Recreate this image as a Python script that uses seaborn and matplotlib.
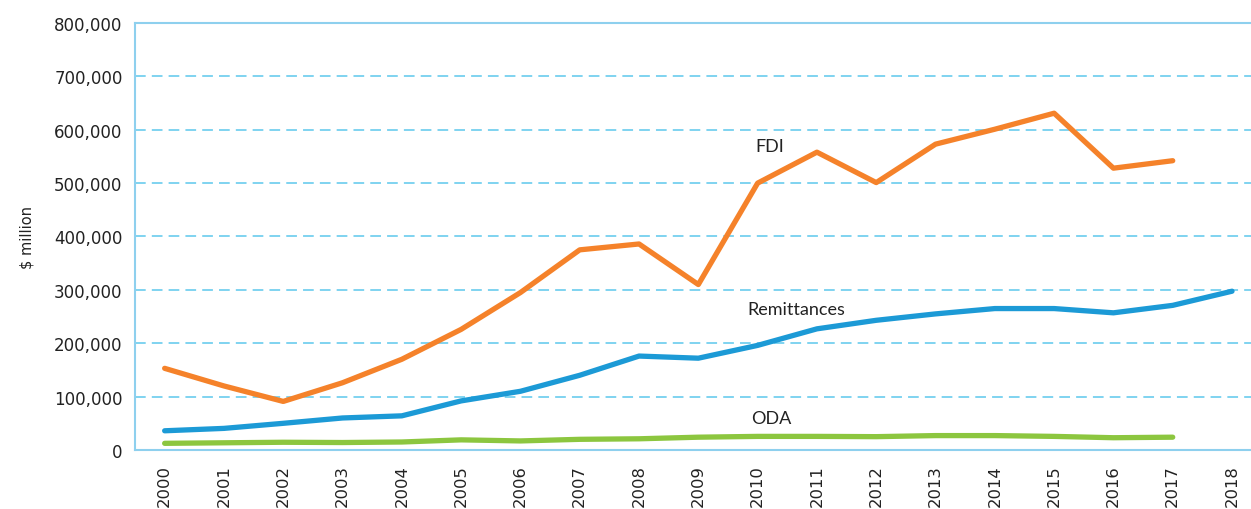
import numpy as np
import pandas as pd
import matplotlib
matplotlib.use("Agg")
import matplotlib.pyplot as plt
from matplotlib.ticker import FuncFormatter, FixedLocator
import seaborn as sns

years = [str(y) for y in range(2000, 2019)]
fdi = [153000, 120000, 91000, 126000, 170000, 226000, 295000, 375000, 386000, 310000,
       500000, 558000, 501000, 573000, 601000, 631000, 528000, 542000, np.nan]
remittances = [36000, 40500, 50000, 60000, 64000, 92000, 110000, 140000, 176000, 172000,
               196000, 227000, 243000, 255000, 265000, 265000, 257000, 271000, 297500]
oda = [12500, 13500, 14500, 14000, 15000, 19000, 17000, 20000, 21000, 24000,
       25500, 25500, 25000, 27000, 27000, 25500, 23000, 24000, np.nan]

series_names = ["FDI", "Remittances", "ODA"]
series_colors = {"FDI": "#F5822A", "Remittances": "#1C9AD6", "ODA": "#8CC63F"}

frames = []
for name, vals in zip(series_names, [fdi, remittances, oda]):
    frames.append(pd.DataFrame({"pos": np.arange(len(years)), "year": years,
                                "value": vals, "series": name}))
df = pd.concat(frames, ignore_index=True).dropna()

sns.set_theme(style="white")
plt.rcParams["font.family"] = ["DejaVu Sans"]

fig = plt.figure(figsize=(12.51, 5.10), dpi=100)
ax = fig.add_axes([135 / 1251, 59 / 510, 1 - 135 / 1251, (451 - 24) / 510])

grid_color = "#5CC8EC"
spine_color = "#8ED0EE"
for v in range(100000, 800000, 100000):
    ax.axhline(v, color=grid_color, lw=1.1, ls=(0, (7, 4)), zorder=0)

sns.lineplot(data=df, x="pos", y="value", hue="series", palette=series_colors,
             hue_order=series_names, linewidth=3.8, legend=False, ax=ax,
             solid_capstyle="round", zorder=3)

ax.set_xlim(-0.5, 18.32)
ax.set_ylim(0, 800000)

ax.xaxis.set_major_locator(FixedLocator(np.arange(len(years))))
ax.set_xticklabels(years, rotation=90, fontsize=11.8, color="#222222")
ax.xaxis.set_minor_locator(FixedLocator(np.arange(-0.5, len(years), 1.0)))
ax.tick_params(axis="x", which="major", length=0, pad=10)
ax.tick_params(axis="x", which="minor", length=5, width=1, color=spine_color, direction="out")

ax.yaxis.set_major_locator(FixedLocator(np.arange(0, 800001, 100000)))
ax.yaxis.set_major_formatter(FuncFormatter(lambda v, p: f"{int(v):,}"))
ax.tick_params(axis="y", length=0, pad=9, labelsize=12, labelcolor="#222222")

ax.set_xlabel("")
ax.set_ylabel("$ million", fontsize=10.5, color="#222222", labelpad=14)

for side in ["left", "bottom", "top"]:
    ax.spines[side].set_visible(True)
    ax.spines[side].set_color(spine_color)
    ax.spines[side].set_linewidth(1.5)
ax.spines["right"].set_visible(False)

label_font = dict(fontsize=13, color="#222222", family=["Lato", "DejaVu Sans"],
                  ha="center", va="center")
ax.text(10.2, 570000, "FDI", **label_font)
ax.text(10.65, 265000, "Remittances", **label_font)
ax.text(10.23, 60000, "ODA", **label_font)

fig.savefig("out.png", dpi=100)
